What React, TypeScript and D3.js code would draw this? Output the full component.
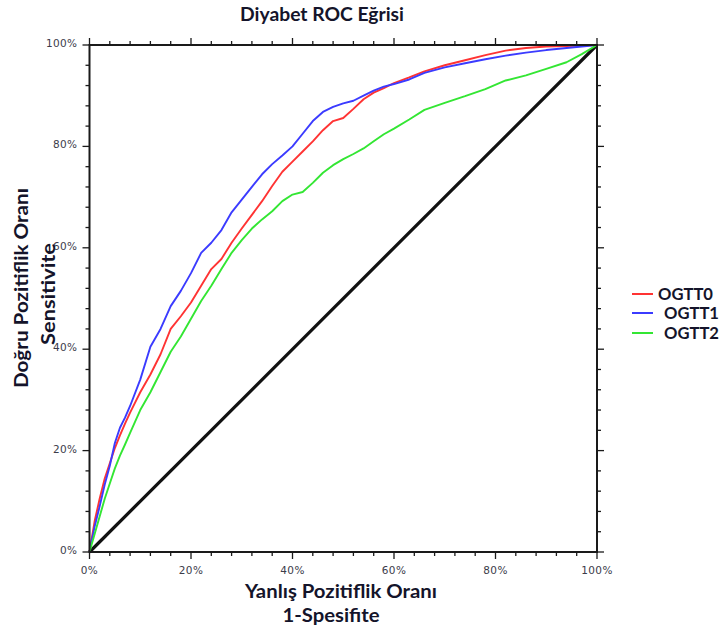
import React from "react";
import * as d3 from "d3";

// ---------- data ----------
const fprGrid = [0, 1, 2, 3, 4, 5, 6, 7, 8, 10, 12, 14, 16, 18, 20, 22, 24, 26, 28, 30, 32, 34, 36, 38, 40, 42, 44, 46, 48, 50, 52, 54, 56, 58, 60, 63, 66, 70, 74, 78, 82, 86, 90, 94, 97, 100];

const ogtt0 = [0, 6, 10.5, 14.5, 17.5, 20.5, 23, 25.3, 27.5, 31.5, 35, 39, 44, 46.5, 49.2, 52.5, 55.8, 57.8, 61, 63.8, 66.5, 69.2, 72.2, 75, 77, 79, 81, 83.2, 85, 85.6, 87.4, 89.3, 90.6, 91.5, 92.5, 93.6, 94.8, 96, 97, 98, 98.9, 99.4, 99.7, 99.8, 99.9, 100];
const ogtt1 = [0, 5, 9, 13.3, 17, 21.5, 24.5, 26.5, 28.8, 34, 40.5, 44, 48.5, 51.5, 55, 59, 61, 63.5, 67, 69.5, 72, 74.5, 76.5, 78.2, 80, 82.5, 85, 86.8, 87.8, 88.5, 89, 90, 91, 91.8, 92.3, 93.2, 94.5, 95.6, 96.4, 97.2, 97.9, 98.5, 99, 99.4, 99.7, 100];
const ogtt2 = [0, 3.5, 7, 10.5, 13.5, 16.5, 19, 21.2, 23.5, 28, 31.5, 35.5, 39.5, 42.5, 46, 49.5, 52.5, 55.8, 59, 61.5, 63.8, 65.6, 67.2, 69.2, 70.5, 71, 72.8, 74.8, 76.3, 77.5, 78.5, 79.6, 81, 82.4, 83.5, 85.3, 87.2, 88.6, 89.9, 91.3, 93, 94, 95.3, 96.6, 98.2, 100];

const seriesNames = ["OGTT0", "OGTT1", "OGTT2"];
const seriesValues = [ogtt0, ogtt1, ogtt2];
const seriesColors = ["#ff3333", "#3b3bff", "#33e633"];

const referenceLine = [0, 100];
const majorTicks = [0, 20, 40, 60, 80, 100];
const minorTicks = d3.range(0, 101, 4);

const titleText = "Diyabet ROC Eğrisi";
const xTitle1 = "Yanlış Pozitiflik Oranı";
const xTitle2 = "1-Spesifite";
const yTitle1 = "Doğru Pozitiflik Oranı";
const yTitle2 = "Sensitivite";

// ---------- layout ----------
const W = 725;
const H = 641;
const X0 = 89.5;
const X1 = 597;
const Y0 = 552;
const Y1 = 45;

const boldFont = "Lato, 'Open Sans', sans-serif";
const tickFont = "'DejaVu Sans', Verdana, sans-serif";
const textColor = "#14142a";

export default function App() {
  const x = d3.scaleLinear().domain([0, 100]).range([X0, X1]);
  const y = d3.scaleLinear().domain([0, 100]).range([Y0, Y1]);

  const line = d3
    .line<[number, number]>()
    .x((d) => x(d[0]))
    .y((d) => y(d[1]));

  const pct = (v: number) => `${v}%`;
  const isMajor = (v: number) => v % 20 === 0;

  return (
    <svg
      width={W}
      height={H}
      viewBox={`0 0 ${W} ${H}`}
      style={{ position: "absolute", left: 0, top: 0, background: "#fff" }}
    >
      <rect x={0} y={0} width={W} height={H} fill="#fff" />

      {/* title */}
      <text
        x={322}
        y={21}
        textAnchor="middle"
        fontFamily={boldFont}
        fontWeight={700}
        fontSize={19}
        fill={textColor}
        textLength={164}
        lengthAdjust="spacingAndGlyphs"
      >
        {titleText}
      </text>

      {/* reference diagonal */}
      <path
        d={line(referenceLine.map((v) => [v, v]) as [number, number][]) || ""}
        stroke="#111"
        strokeWidth={3.2}
        fill="none"
      />

      {/* ROC curves */}
      {seriesValues.map((vals, i) => (
        <path
          key={seriesNames[i]}
          d={line(fprGrid.map((f, j) => [f, vals[j]]) as [number, number][]) || ""}
          stroke={seriesColors[i]}
          strokeWidth={1.9}
          fill="none"
          strokeLinejoin="round"
        />
      ))}

      {/* frame */}
      <rect
        x={X0}
        y={Y1}
        width={X1 - X0}
        height={Y0 - Y1}
        fill="none"
        stroke="#1a1a1a"
        strokeWidth={2}
      />

      {/* ticks */}
      <g stroke="#1a1a1a" strokeWidth={1.3}>
        {minorTicks.map((v) => {
          const len = isMajor(v) ? 7 : 4;
          return (
            <g key={"t" + v}>
              <line x1={x(v)} x2={x(v)} y1={Y0} y2={Y0 + len} />
              <line x1={x(v)} x2={x(v)} y1={Y1} y2={Y1 - len} />
              <line x1={X0} x2={X0 - len} y1={y(v)} y2={y(v)} />
              <line x1={X1} x2={X1 + len} y1={y(v)} y2={y(v)} />
            </g>
          );
        })}
      </g>

      {/* tick labels */}
      <g fontFamily={tickFont} fontSize={10.5} fill="#3c3c4a" letterSpacing={0.4}>
        {majorTicks.map((v) => (
          <text key={"xl" + v} x={x(v)} y={574} textAnchor="middle">
            {pct(v)}
          </text>
        ))}
        {majorTicks.map((v) => (
          <text key={"yl" + v} x={X0 - 12} y={y(v) + 2} textAnchor="end">
            {pct(v)}
          </text>
        ))}
      </g>

      {/* x axis title */}
      <g fontFamily={boldFont} fontWeight={700} fontSize={19} fill={textColor}>
        <text x={341} y={598} textAnchor="middle" textLength={192} lengthAdjust="spacingAndGlyphs">
          {xTitle1}
        </text>
        <text x={331} y={622} textAnchor="middle" textLength={97} lengthAdjust="spacingAndGlyphs">
          {xTitle2}
        </text>
      </g>

      {/* y axis title */}
      <g fontFamily={boldFont} fontWeight={700} fontSize={19} fill={textColor}>
        <text
          transform={`translate(28,288) rotate(-90)`}
          textAnchor="middle"
          textLength={200}
          lengthAdjust="spacingAndGlyphs"
        >
          {yTitle1}
        </text>
        <text
          transform={`translate(55,294) rotate(-90)`}
          textAnchor="middle"
          textLength={102}
          lengthAdjust="spacingAndGlyphs"
        >
          {yTitle2}
        </text>
      </g>

      {/* legend */}
      <g fontFamily={boldFont} fontWeight={700} fontSize={17} fill={textColor}>
        {seriesNames.map((name, i) => {
          const ly = [294, 313, 333][i];
          const tx = i === 0 ? 658 : 664;
          return (
            <g key={"lg" + name}>
              <line x1={632} x2={653} y1={ly} y2={ly} stroke={seriesColors[i]} strokeWidth={2} />
              <text x={tx} y={ly + 6} textLength={55} lengthAdjust="spacingAndGlyphs">
                {name}
              </text>
            </g>
          );
        })}
      </g>
    </svg>
  );
}
